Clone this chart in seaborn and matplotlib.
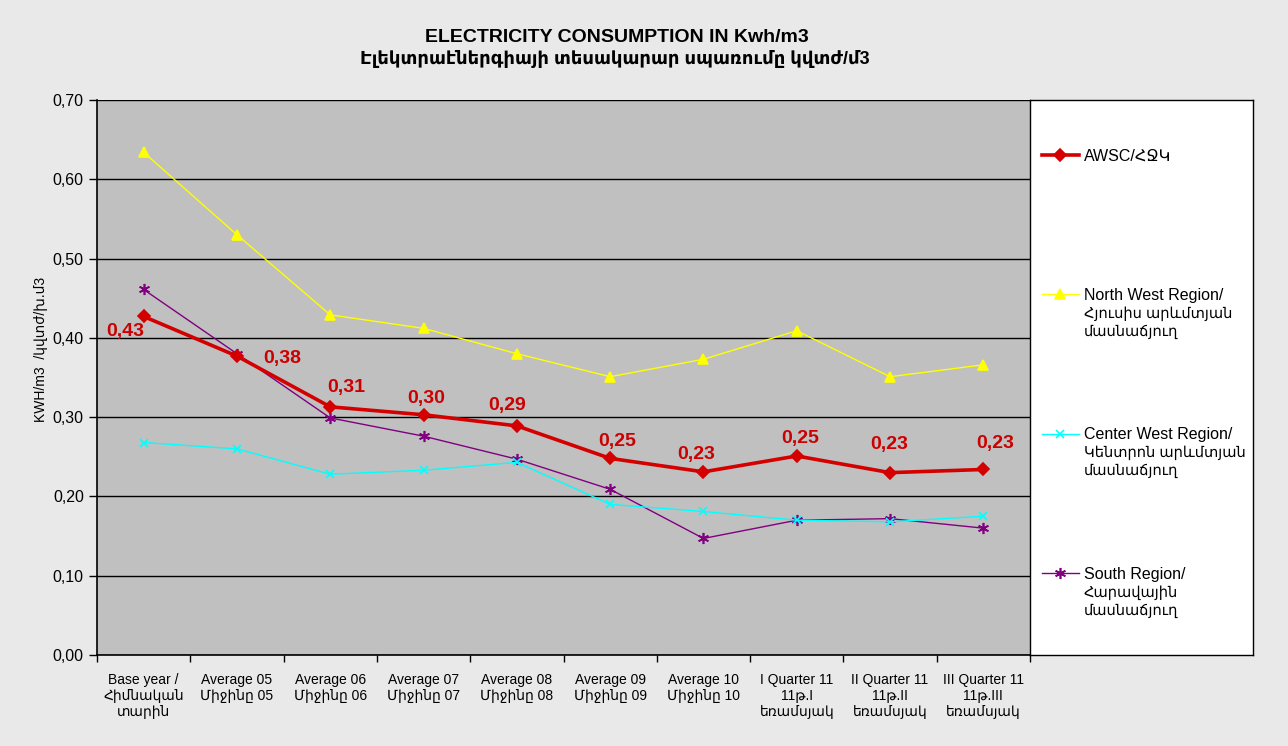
import numpy as np
import pandas as pd
import seaborn as sns
import matplotlib.pyplot as plt
from matplotlib.ticker import FuncFormatter, FixedLocator

# periods on the x axis
periods = [
    "Base year /\nՀիմնական\nտարին",
    "Average 05\nՄիջինը 05",
    "Average 06\nՄիջինը 06",
    "Average 07\nՄիջինը 07",
    "Average 08\nՄիջինը 08",
    "Average 09\nՄիջինը 09",
    "Average 10\nՄիջինը 10",
    "I Quarter 11\n11թ.I\nեռամսյակ",
    "II Quarter 11\n11թ.II\nեռամսյակ",
    "III Quarter 11\n11թ.III\nեռամսյակ",
]

# series values (kWh per m3)
awsc = [0.427, 0.377, 0.313, 0.303, 0.289, 0.248, 0.231, 0.251, 0.230, 0.234]
north_west = [0.634, 0.530, 0.429, 0.412, 0.380, 0.351, 0.373, 0.409, 0.351, 0.366]
center_west = [0.268, 0.260, 0.228, 0.233, 0.243, 0.190, 0.181, 0.170, 0.168, 0.175]
south = [0.461, 0.380, 0.299, 0.276, 0.247, 0.209, 0.147, 0.170, 0.172, 0.160]

# labels shown for AWSC
awsc_labels = ["0,43", "0,38", "0,31", "0,30", "0,29", "0,25", "0,23", "0,25", "0,23", "0,23"]

series_names = [
    "AWSC/ՀՋԿ",
    "North West Region/\nՀյուսիս արևմտյան\nմասնաճյուղ",
    "Center West Region/\nԿենտրոն արևմտյան\nմասնաճյուղ",
    "South Region/\nՀարավային\nմասնաճյուղ",
]

x = np.arange(len(periods))

plt.rcParams['font.family'] = ['Liberation Sans', 'DejaVu Sans']

fig = plt.figure(figsize=(12.88, 7.46), dpi=100)
fig.patch.set_facecolor('#e9e9e9')

ax = fig.add_axes([97 / 1288, 1 - 655 / 746, 933 / 1288, 555 / 746])
ax.set_facecolor('#c0c0c0')

styles = [
    (awsc, '#d40000', 'D', 2.6, 6),
    (north_west, '#ffff00', '^', 1.0, 7),
    (center_west, '#00ffff', 'x', 1.0, 6),
    (south, '#800080', (6, 2, 0), 1.0, 8),
]
short_names = [n.split('\n')[0] for n in series_names]
# draw thin lines first, AWSC on top
for (vals, color, marker, lw, ms), name in list(zip(styles, short_names))[::-1]:
    sns.lineplot(x=x, y=vals, ax=ax, color=color, marker=marker, linewidth=lw,
                 markersize=ms, markeredgecolor=color, markeredgewidth=1.2,
                 label=name, zorder=3 if name.startswith('AWSC') else 2)

# value labels for AWSC (offsets in pixels)
offsets = [(-18, -15), (45, -2), (16, 19), (3, 16), (-10, 20), (7, 17), (-7, 17), (3, 17), (-1, 28), (12, 26)]
for xi, yi, txt, off in zip(x, awsc, awsc_labels, offsets):
    ax.annotate(txt, (xi, yi), xytext=off, textcoords='offset pixels', ha='center', va='center',
                color='#cc0000', fontsize=14, fontweight='bold')

ax.set_xlim(-0.5, len(periods) - 0.5)
ax.set_ylim(0, 0.7)
ax.set_yticks(np.arange(0, 0.71, 0.1))
ax.yaxis.set_major_formatter(FuncFormatter(lambda v, p: f"{v:.2f}".replace('.', ',')))
ax.yaxis.grid(True, color='black', linewidth=1)
ax.set_axisbelow(True)
ax.tick_params(axis='y', direction='out', length=6, labelsize=11.5, width=1)

ax.set_xticks(x)
ax.set_xticklabels(periods, fontsize=10, linespacing=1.2)
ax.tick_params(axis='x', which='major', length=0, pad=13)
ax.xaxis.set_minor_locator(FixedLocator(np.arange(-0.5, len(periods), 1)))
ax.tick_params(axis='x', which='minor', direction='out', length=5, width=1)

for side in ['top', 'right']:
    ax.spines[side].set_visible(False)
ax.spines['left'].set_linewidth(1.2)
ax.spines['bottom'].set_linewidth(1.2)
ax.set_xlabel('')
ax.set_ylabel('KWH/m3  /կվտժ/խ.մ3', fontsize=10)
ax.yaxis.set_label_coords(-0.053, 0.55)

# legend in its own white box on the right
handles, labels = ax.get_legend_handles_labels()
ax.get_legend().remove()
order = [labels.index(n) for n in short_names]
lax = fig.add_axes([1030 / 1288, 1 - 655 / 746, 223 / 1288, 555 / 746])
lax.set_xticks([])
lax.set_yticks([])
lax.set_facecolor('white')
for s in lax.spines.values():
    s.set_linewidth(1)
leg = lax.legend([handles[i] for i in order], [labels[i] for i in order], loc='upper left',
                 bbox_to_anchor=(0.054, 0.913), frameon=False, fontsize=11.5, labelspacing=7.8,
                 handlelength=2.3, handletextpad=0.3, borderaxespad=0, borderpad=0)

# continuation lines of the legend labels, 18 px apart
fig.canvas.draw()
inv = lax.transAxes.inverted()
for t, name in zip(leg.get_texts(), series_names):
    bb = t.get_window_extent()
    cy = (bb.y0 + bb.y1) / 2
    for k, line in enumerate(name.split('\n')[1:], start=1):
        px, py = inv.transform((bb.x0, cy - 18 * k))
        lax.text(px, py, line, transform=lax.transAxes, ha='left', va='center', fontsize=10.5)

fig.text(617 / 1288, 1 - 37 / 746, 'ELECTRICITY CONSUMPTION IN Kwh/m3', ha='center', va='center',
         fontsize=14, fontweight='bold')
fig.text(615 / 1288, 1 - 59 / 746, 'Էլեկտրաէներգիայի տեսակարար սպառումը կվտժ/մ3', ha='center',
         va='center', fontsize=13, fontweight='bold')

fig.savefig('out.png', dpi=100, facecolor=fig.get_facecolor())
